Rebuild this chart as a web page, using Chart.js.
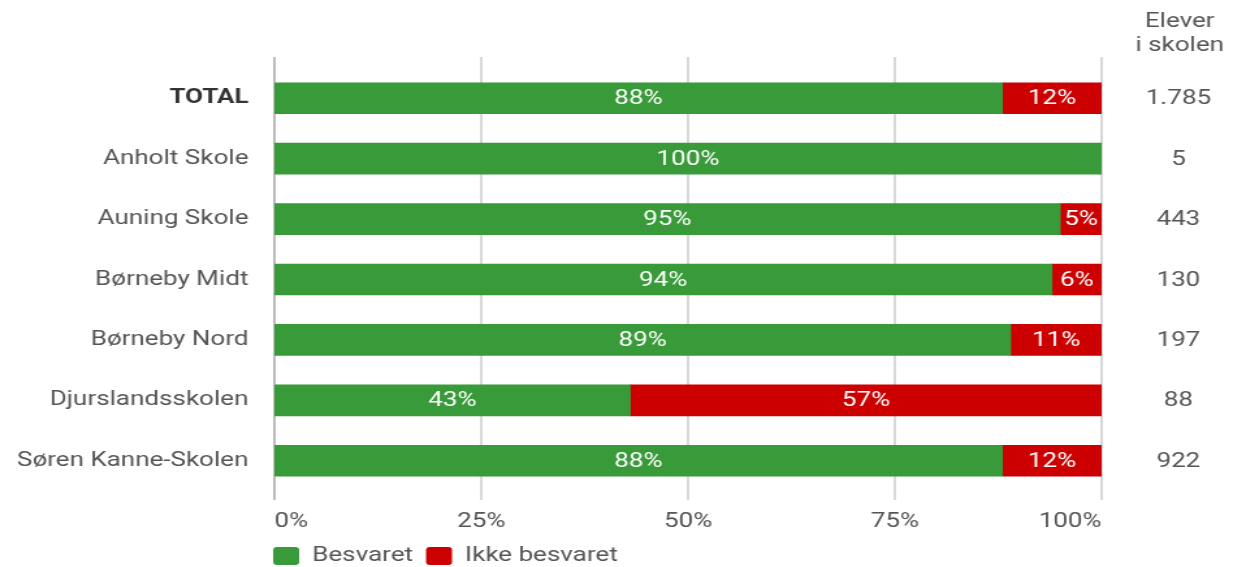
<!DOCTYPE html>
<html lang="da">
<head>
  <meta charset="UTF-8" />
  <title>Besvarelse pr. skole</title>
  <script src="https://cdn.jsdelivr.net/npm/chart.js"></script>
  <style>
    html, body { margin: 0; padding: 0; background: #fff; }
    /* canvas tegnes smallere og strækkes vandret, som i originalbilledet */
    #chart { width: 1233px !important; height: 567px !important; display: block; }
  </style>
</head>
<body>
  <canvas id="chart" width="948" height="567" style="width:1233px;height:567px"></canvas>

  <script>
    // data
    const skoler = ['TOTAL', 'Anholt Skole', 'Auning Skole', 'Børneby Midt', 'Børneby Nord', 'Djurslandsskolen', 'Søren Kanne-Skolen'];
    const besvaret = [88, 100, 95, 94, 89, 43, 88];
    const ikkeBesvaret = [12, 0, 5, 6, 11, 57, 12];
    const elever = ['1.785', '5', '443', '130', '197', '88', '922'];
    const kolonneTitel = ['Elever', 'i skolen'];
    const xTicks = [0, 25, 50, 75, 100];

    const GREEN = '#389a38';
    const RED = '#cc0000';
    const FONT = 'Roboto, "Open Sans", sans-serif';
    const PLOT_BOTTOM = 491;

    // gitterlinjer lidt laengere end plotomraadet
    const gridPlugin = {
      id: 'gridLines',
      beforeDatasetsDraw(chart) {
        const { ctx, chartArea, scales } = chart;
        ctx.save();
        xTicks.forEach(v => {
          const x = scales.x.getPixelForValue(v);
          ctx.strokeStyle = v === 0 ? '#aaa' : '#cfcfcf';
          ctx.lineWidth = 1.6;
          ctx.beginPath();
          ctx.moveTo(x, chartArea.top - 11);
          ctx.lineTo(x, chartArea.bottom + 9);
          ctx.stroke();
        });
        ctx.restore();
      }
    };

    // procenttal i bjaelkerne + elevkolonne til hoejre
    const labelPlugin = {
      id: 'labels',
      afterDatasetsDraw(chart) {
        const { ctx, scales } = chart;
        ctx.save();
        ctx.font = '20px ' + FONT;
        ctx.textAlign = 'center';
        ctx.textBaseline = 'middle';
        ctx.fillStyle = '#fff';
        chart.data.datasets.forEach((ds, di) => {
          chart.getDatasetMeta(di).data.forEach((bar, i) => {
            const v = ds.data[i];
            if (!v) return;
            ctx.fillText(v + '%', (bar.x + bar.base) / 2, bar.y + 1);
          });
        });

        ctx.fillStyle = '#555';
        const colX = 906;
        elever.forEach((n, i) => {
          ctx.fillText(n, colX, scales.y.getPixelForValue(i) + 1);
        });
        ctx.fillText(kolonneTitel[0], colX + 1, 22);
        ctx.fillText(kolonneTitel[1], colX + 1, 46);
        ctx.restore();
      }
    };

    // flyt legenden ind under plotomraadet
    const legendPlugin = {
      id: 'legendShift',
      afterLayout(chart) {
        if (!chart.legend) return;
        chart.legend.left = 200;
        chart.legend.top = 536;
      }
    };

    new Chart(document.getElementById('chart'), {
      type: 'bar',
      data: {
        labels: skoler,
        datasets: [
          { label: 'Besvaret', data: besvaret, backgroundColor: GREEN, barThickness: 31 },
          { label: 'Ikke besvaret', data: ikkeBesvaret, backgroundColor: RED, barThickness: 31 }
        ]
      },
      options: {
        indexAxis: 'y',
        responsive: false,
        animation: false,
        devicePixelRatio: 1,
        layout: { padding: { top: 68, right: 101, left: 0, bottom: 0 } },
        scales: {
          x: {
            stacked: true,
            min: 0,
            max: 100,
            grid: { display: false, drawTicks: false },
            border: { display: false },
            afterBuildTicks(axis) { axis.ticks = xTicks.map(v => ({ value: v })); },
            afterFit(axis) {
              const lh = axis.chart.legend ? axis.chart.legend.height : 0;
              axis.height = 567 - PLOT_BOTTOM - lh;
            },
            ticks: {
              align: 'inner',
              padding: 19,
              color: '#555',
              font: { family: FONT, size: 20 },
              callback: v => v + '%'
            }
          },
          y: {
            stacked: true,
            grid: { display: false },
            border: { display: false },
            afterFit(axis) { axis.width = 211; },
            ticks: {
              padding: 12,
              color: ctx => ctx.index === 0 ? '#333' : '#555',
              font: ctx => ({ family: FONT, size: 20, weight: ctx.index === 0 ? 'bold' : 'normal' })
            }
          }
        },
        plugins: {
          tooltip: { enabled: false },
          legend: {
            position: 'bottom',
            align: 'start',
            labels: {
              boxWidth: 20,
              boxHeight: 18,
              useBorderRadius: true,
              borderRadius: 3,
              padding: 10,
              color: '#555',
              font: { family: FONT, size: 20 }
            }
          }
        }
      },
      plugins: [gridPlugin, labelPlugin, legendPlugin]
    });
  </script>
</body>
</html>
